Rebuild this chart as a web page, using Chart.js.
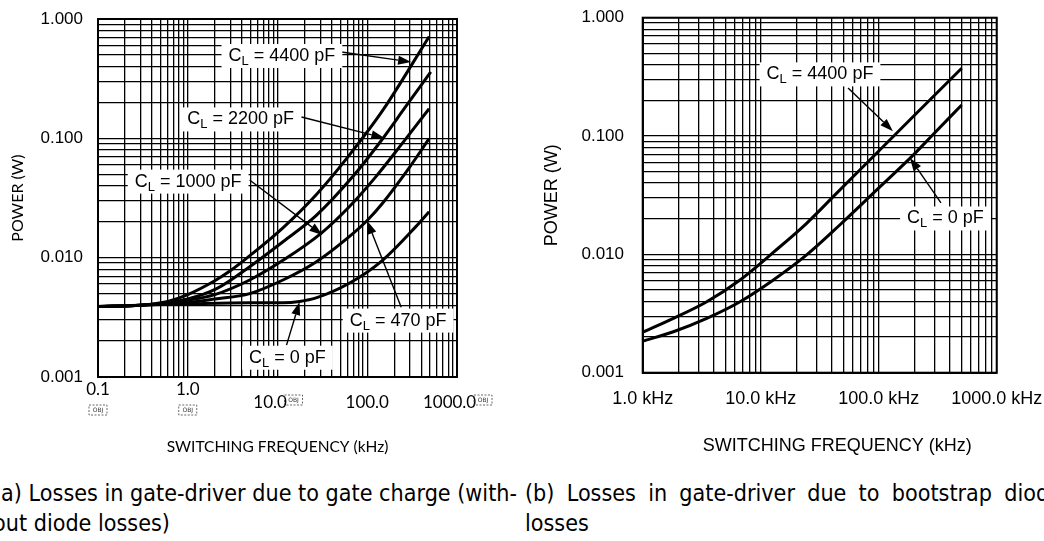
<!DOCTYPE html>
<html>
<head>
<meta charset="utf-8">
<title>Gate-driver losses</title>
<script src="https://cdn.jsdelivr.net/npm/chart.js@4.4.1/dist/chart.umd.min.js"></script>
<style>
    html, body { margin: 0; padding: 0; background: #ffffff; }
    body { position: relative; width: 1044px; height: 541px; overflow: hidden; }
    canvas { position: absolute; top: 0; }
    #gateChart { left: 0; }
    #bootChart { left: 520px; }
    .caption { position: absolute; font-family: "DejaVu Sans", sans-serif; font-size: 23px; line-height: 30px; color: #000; white-space: nowrap; transform-origin: 0 0; }
    .justified { text-align: justify; text-align-last: justify; }
</style>
</head>
<body>
<canvas id="gateChart" width="520" height="460"></canvas>
<canvas id="bootChart" width="524" height="460"></canvas>
<div class="caption justified" id="capA" style="left:-7px; top:478px;">(a) Losses in gate-driver due to gate charge (with-</div>
<div class="caption" style="left:-7px; top:508px;">out diode losses)</div>
<div class="caption justified" id="capB" style="left:525px; top:478px;">(b) Losses in gate-driver due to bootstrap diode</div>
<div class="caption" style="left:525px; top:508px;">losses</div>

<script>
// (a) gate charge losses: switching frequency in kHz, power in W
const gateFreq4400 = [0.1, 0.3, 0.6, 1, 2, 3, 5, 11.5, 27, 60, 150, 490];
const gatePower4400 = [0.0039, 0.0040, 0.0043, 0.0049, 0.0064, 0.0078, 0.0105, 0.0178, 0.0337, 0.069, 0.173, 0.714];
const gateFreq2200 = [0.1, 0.3, 0.6, 1, 2.1, 4.9, 11.5, 26.9, 69, 136, 269, 510];
const gatePower2200 = [0.0039, 0.0040, 0.0042, 0.0045, 0.0055, 0.0084, 0.0136, 0.0225, 0.0478, 0.091, 0.185, 0.36];
const gateFreq1000 = [0.1, 0.3, 1, 2, 4.9, 11.5, 30.6, 63, 125, 247, 489];
const gatePower1000 = [0.0039, 0.0040, 0.0044, 0.0049, 0.0065, 0.0095, 0.016, 0.0267, 0.0478, 0.0913, 0.177];
const gateFreq470 = [0.1, 0.3, 1, 2, 4.9, 11.5, 26.9, 63, 101, 148, 293, 489];
const gatePower470 = [0.0039, 0.0040, 0.0042, 0.0045, 0.0050, 0.0065, 0.0092, 0.015, 0.0207, 0.0286, 0.0566, 0.0993];
const gateFreq0 = [0.1, 0.3, 1, 4.9, 11.5, 17.6, 26.9, 63, 148, 348, 489];
const gatePower0 = [0.0039, 0.0040, 0.0041, 0.0042, 0.0042, 0.0043, 0.0046, 0.0061, 0.0095, 0.0182, 0.0243];

// (b) bootstrap diode losses
const bootFreq4400 = [1, 1.82, 3.49, 6.68, 12.8, 24.5, 42.6, 90, 200, 505];
const bootPower4400 = [0.0022, 0.00288, 0.00398, 0.00608, 0.0104, 0.0183, 0.0318, 0.0672, 0.149, 0.374];
const bootFreq0 = [1, 1.82, 3.49, 6.68, 12.8, 24.5, 47, 90, 196, 281, 505];
const bootPower0 = [0.00185, 0.00222, 0.00288, 0.00398, 0.00608, 0.0099, 0.0178, 0.0329, 0.069, 0.1, 0.183];

const powerTicks = [0.001, 0.01, 0.1, 1];
const powerTickLabels = ['0.001', '0.010', '0.100', '1.000'];
const gateFreqTicks = [0.1, 1, 10, 100, 1000];
const gateFreqTickLabels = ['0.1', '1.0', ['', '10.0\u2003\u2009'], ['', '100.0'], ['', '1000.0\u2003\u2009']];
const bootFreqTicks = [1, 10, 100, 1000];
const bootFreqTickLabels = ['1.0 kHz', '10.0 kHz', '100.0 kHz', '1000.0 kHz'];

// callouts, placed in data units (kHz, W)
const gateNotes = [
    { value: '4400 pF', label: [11.2, 0.49], from: [51.4, 0.529], tip: [308, 0.436] },
    { value: '2200 pF', label: [3.88, 0.144], from: [18.5, 0.151], tip: [155, 0.1006] },
    { value: '1000 pF', label: [1.01, 0.0434], from: [4.89, 0.0447], tip: [31.6, 0.0155] },
    { value: '470 pF', label: [221, 0.00297], from: [239, 0.00385], tip: [100, 0.0203] },
    { value: '0 pF', label: [12.9, 0.00145], from: [12.6, 0.00185], tip: [17.6, 0.00425] }
];
const bootNotes = [
    { value: '4400 pF', label: [31.8, 0.332], from: [55, 0.255], tip: [132, 0.11] },
    { value: '0 pF', label: [368, 0.0201], from: [337, 0.0272], tip: [184, 0.0653] }
];

const ARIAL = '"Liberation Sans", Arial, sans-serif';
const CALIBRI = 'Lato, "Open Sans", sans-serif';

function pickLabel(value, values, labels) {
    const i = values.findIndex(v => Math.abs(Math.log10(v) - Math.log10(value)) < 1e-6);
    return i >= 0 ? labels[i] : '';
}

// keep only 1..9 x 10^n gridlines
function wholeSteps(scale) {
    scale.ticks = scale.ticks.filter(t => {
        const s = t.value / Math.pow(10, Math.floor(Math.log10(t.value) + 1e-9));
        return Math.abs(s - Math.round(s)) < 1e-6;
    });
}

function curve(freqs, powers) {
    return {
        data: freqs.map((f, i) => ({ x: f, y: powers[i] })),
        borderColor: '#000',
        borderWidth: 3,
        pointRadius: 0,
        fill: false,
        cubicInterpolationMode: 'monotone'
    };
}

function drawNote(ctx, x, y, note) {
    const tipX = x.getPixelForValue(note.tip[0]);
    const tipY = y.getPixelForValue(note.tip[1]);
    const fromX = x.getPixelForValue(note.from[0]);
    const fromY = y.getPixelForValue(note.from[1]);
    const angle = Math.atan2(tipY - fromY, tipX - fromX);
    const head = 13, half = 4.5;
    const baseX = tipX - head * Math.cos(angle);
    const baseY = tipY - head * Math.sin(angle);

    ctx.strokeStyle = '#000';
    ctx.lineWidth = 1.4;
    ctx.beginPath();
    ctx.moveTo(fromX, fromY);
    ctx.lineTo(baseX, baseY);
    ctx.stroke();
    ctx.beginPath();
    ctx.moveTo(tipX, tipY);
    ctx.lineTo(baseX + half * Math.sin(angle), baseY - half * Math.cos(angle));
    ctx.lineTo(baseX - half * Math.sin(angle), baseY + half * Math.cos(angle));
    ctx.closePath();
    ctx.fillStyle = '#000';
    ctx.fill();

    const big = '18px ' + ARIAL, small = '13px ' + ARIAL;
    const rest = ' = ' + note.value;
    ctx.font = big;
    const wC = ctx.measureText('C').width;
    const wRest = ctx.measureText(rest).width;
    ctx.font = small;
    const wL = ctx.measureText('L').width;
    const w = wC + wL + wRest + 14, h = 24;
    const cx = x.getPixelForValue(note.label[0]);
    const cy = y.getPixelForValue(note.label[1]);

    ctx.fillStyle = '#fff';
    ctx.fillRect(cx - w / 2, cy - h / 2, w, h);
    ctx.fillStyle = '#000';
    ctx.textAlign = 'left';
    ctx.textBaseline = 'alphabetic';
    let tx = cx - w / 2 + 7;
    ctx.font = big;
    ctx.fillText('C', tx, cy + 5);
    tx += wC;
    ctx.font = small;
    ctx.fillText('L', tx, cy + 9);
    tx += wL;
    ctx.font = big;
    ctx.fillText(rest, tx, cy + 5);
}

function drawObjMark(ctx, left, top) {
    ctx.save();
    ctx.setLineDash([2, 1.5]);
    ctx.lineWidth = 0.8;
    ctx.strokeStyle = '#444';
    ctx.strokeRect(left, top, 18, 10);
    ctx.setLineDash([]);
    ctx.font = '6px "DejaVu Sans", sans-serif';
    ctx.fillStyle = '#333';
    ctx.textAlign = 'center';
    ctx.textBaseline = 'middle';
    ctx.fillText('OBJ', left + 9, top + 5.5);
    ctx.restore();
}

function noteLayer(notes, objMarks) {
    return {
        id: 'noteLayer',
        afterDatasetsDraw(chart) {
            const { ctx, chartArea, scales: { x, y } } = chart;
            ctx.save();
            notes.forEach(note => drawNote(ctx, x, y, note));
            ctx.strokeStyle = '#000';
            ctx.lineWidth = 2;
            ctx.strokeRect(chartArea.left, chartArea.top, chartArea.right - chartArea.left, chartArea.bottom - chartArea.top);
            objMarks.forEach(m => drawObjMark(ctx, x.getPixelForValue(m.at) + m.dx, chartArea.bottom + m.dy));
            ctx.restore();
        }
    };
}

function logScale(extra) {
    return Object.assign({
        type: 'logarithmic',
        afterBuildTicks: wholeSteps,
        grid: { color: '#000', lineWidth: 1.3, drawTicks: false },
        border: { color: '#000', width: 2 }
    }, extra);
}

function fixHeight(h) {
    return scale => {
        scale.height = h;
        scale.paddingLeft = scale.paddingRight = scale.paddingTop = scale.paddingBottom = 0;
    };
}

function fixWidth(w) {
    return scale => {
        scale.width = w;
        scale.paddingLeft = scale.paddingRight = scale.paddingTop = scale.paddingBottom = 0;
    };
}

new Chart(document.getElementById('gateChart'), {
    type: 'line',
    data: {
        datasets: [
            curve(gateFreq4400, gatePower4400),
            curve(gateFreq2200, gatePower2200),
            curve(gateFreq1000, gatePower1000),
            curve(gateFreq470, gatePower470),
            curve(gateFreq0, gatePower0)
        ]
    },
    options: {
        responsive: false,
        animation: false,
        devicePixelRatio: 1,
        layout: { autoPadding: false, padding: { top: 19, right: 63, bottom: 0, left: 0 } },
        plugins: { legend: { display: false }, tooltip: { enabled: false } },
        scales: {
            x: logScale({
                min: 0.1,
                max: 1000,
                afterFit: fixHeight(83),
                ticks: {
                    autoSkip: false,
                    maxRotation: 0,
                    padding: 6,
                    color: '#000',
                    font: { family: CALIBRI, size: 17, lineHeight: 0.75 },
                    callback: v => pickLabel(v, gateFreqTicks, gateFreqTickLabels)
                },
                title: {
                    display: true,
                    text: 'SWITCHING FREQUENCY (kHz)',
                    color: '#000',
                    font: { family: CALIBRI, size: 15.5 },
                    padding: { top: 0, bottom: 4 }
                }
            }),
            y: logScale({
                min: 0.001,
                max: 1,
                afterFit: fixWidth(98),
                ticks: {
                    autoSkip: false,
                    padding: 15,
                    color: '#000',
                    font: { family: ARIAL, size: 17 },
                    callback: v => pickLabel(v, powerTicks, powerTickLabels)
                },
                title: {
                    display: true,
                    text: 'POWER (W)',
                    color: '#000',
                    font: { family: CALIBRI, size: 16 },
                    padding: { top: 8, bottom: 0 }
                }
            })
        }
    },
    plugins: [noteLayer(gateNotes, [
        { at: 0.1, dx: -9, dy: 28 },
        { at: 1, dx: -9, dy: 28 },
        { at: 10, dx: 7, dy: 18 },
        { at: 1000, dx: 17, dy: 18 }
    ])]
});

new Chart(document.getElementById('bootChart'), {
    type: 'line',
    data: {
        datasets: [
            curve(bootFreq4400, bootPower4400),
            curve(bootFreq0, bootPower0)
        ]
    },
    options: {
        responsive: false,
        animation: false,
        devicePixelRatio: 1,
        layout: { autoPadding: false, padding: { top: 17.7, right: 47.3, bottom: 0, left: 0 } },
        plugins: { legend: { display: false }, tooltip: { enabled: false } },
        scales: {
            x: logScale({
                min: 1,
                max: 1000,
                afterFit: fixHeight(87.3),
                ticks: {
                    autoSkip: false,
                    maxRotation: 0,
                    padding: 16,
                    color: '#000',
                    font: { family: ARIAL, size: 18 },
                    callback: v => pickLabel(v, bootFreqTicks, bootFreqTickLabels)
                },
                title: {
                    display: true,
                    text: '\u00a0\u00a0\u00a0\u00a0\u00a0\u00a0\u00a0SWITCHING FREQUENCY (kHz)',
                    color: '#000',
                    font: { family: ARIAL, size: 18 },
                    padding: { top: 0, bottom: 3 }
                }
            }),
            y: logScale({
                min: 0.001,
                max: 1,
                afterFit: fixWidth(122.7),
                ticks: {
                    autoSkip: false,
                    padding: 18.7,
                    color: '#000',
                    font: { family: ARIAL, size: 17 },
                    callback: v => pickLabel(v, powerTicks, powerTickLabels)
                },
                title: {
                    display: true,
                    text: 'POWER (W)',
                    color: '#000',
                    font: { family: ARIAL, size: 18 },
                    padding: { top: 21, bottom: 0 }
                }
            })
        }
    },
    plugins: [noteLayer(bootNotes, [])]
});

// squeeze the caption font so line (a) fills its column like the original
(function fitCaptions() {
    const ctx = document.createElement('canvas').getContext('2d');
    ctx.font = '23px "DejaVu Sans", sans-serif';
    const natural = ctx.measureText(document.getElementById('capA').textContent).width;
    const squeeze = 524 / natural;
    document.querySelectorAll('.caption').forEach(el => { el.style.transform = 'scaleX(' + squeeze + ')'; });
    document.getElementById('capA').style.width = (524 / squeeze) + 'px';
    document.getElementById('capB').style.width = (537 / squeeze) + 'px';
})();
</script>
</body>
</html>
